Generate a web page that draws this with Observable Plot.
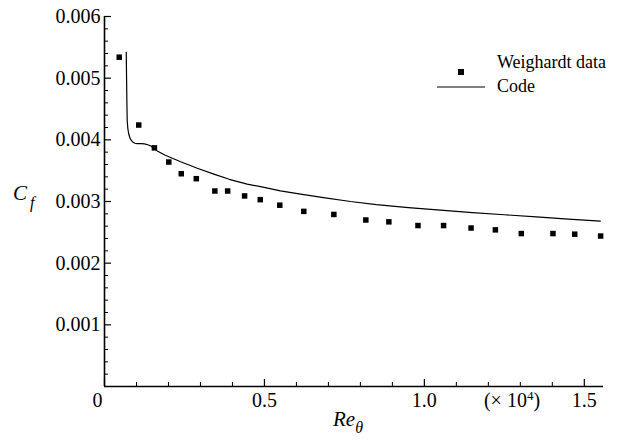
<!DOCTYPE html>
<html>
<head>
<meta charset="utf-8">
<script src="https://cdn.jsdelivr.net/npm/d3@7"></script>
<script src="https://cdn.jsdelivr.net/npm/@observablehq/plot@0.6"></script>
<style>
  body { margin: 0; background: #fff; }
  #chart { position: relative; width: 625px; height: 448px; }
  #chart svg { font-family: "Liberation Serif", "Times New Roman", serif; }
</style>
</head>
<body>
<div id="chart"></div>
<script>
// Skin-friction coefficient vs. momentum-thickness Reynolds number (×10^4)
const weighardtRe = [0.046, 0.107, 0.156, 0.201, 0.240, 0.287, 0.345, 0.385, 0.438, 0.487,
  0.548, 0.623, 0.717, 0.817, 0.889, 0.980, 1.060, 1.146, 1.222, 1.303, 1.402, 1.470, 1.551];
const weighardtCf = [0.00534, 0.00424, 0.00387, 0.00364, 0.00345, 0.00337, 0.00317, 0.00317, 0.00309, 0.00303,
  0.00294, 0.00284, 0.00279, 0.00270, 0.00267, 0.00261, 0.00261, 0.00257, 0.00254, 0.00248, 0.00248, 0.00247, 0.00244];

const codeRe = [0.068, 0.069, 0.070, 0.071, 0.073, 0.076, 0.081, 0.087, 0.095, 0.102, 0.115, 0.125, 0.135,
  0.145, 0.155, 0.165, 0.190, 0.227, 0.238, 0.290, 0.342, 0.390, 0.446, 0.488, 0.550, 0.613, 0.690,
  0.769, 0.850, 0.950, 1.050, 1.150, 1.250, 1.350, 1.450, 1.550];
const codeCf = [0.00542, 0.00500, 0.00460, 0.00431, 0.00418, 0.00409, 0.00401, 0.00397, 0.003945, 0.00394,
  0.00394, 0.003935, 0.00392, 0.00390, 0.00386, 0.00382, 0.00375, 0.00367, 0.003645, 0.00354, 0.003444,
  0.00336, 0.003282, 0.00324, 0.003173, 0.00312, 0.00306, 0.00300, 0.00295, 0.00290, 0.00286, 0.00282,
  0.002785, 0.00275, 0.002715, 0.002682];

const xTickValues = [0, 0.5, 1.0, 1.5];
const xTickLabels = ["0", "0.5", "1.0", "1.5"];
const yTickValues = [0.001, 0.002, 0.003, 0.004, 0.005, 0.006];
const yTickLabels = ["0.001", "0.002", "0.003", "0.004", "0.005", "0.006"];
const seriesNames = ["Weighardt data", "Code"];

const weighardt = weighardtRe.map((re, i) => ({re, cf: weighardtCf[i]}));
const code = codeRe.map((re, i) => ({re, cf: codeCf[i]}));

const xMinor = d3.range(1, 16).map(i => i / 10).filter(v => !xTickValues.some(t => Math.abs(t - v) < 1e-9));
const yMinor = d3.range(1, 30).map(i => i * 0.0002).filter(v => !yTickValues.some(t => Math.abs(t - v) < 1e-9));

const W = 625, H = 448;
const mL = 104, mR = 22, mT = 16, mB = 62;
const frameW = W - mL - mR, frameH = H - mT - mB;
const majorLen = 7, minorLen = 4;
const serif = "Liberation Serif, Times New Roman, serif";

const fmtX = v => xTickLabels[xTickValues.indexOf(v)];
const fmtY = v => yTickLabels[yTickValues.findIndex(t => Math.abs(t - v) < 1e-12)];

const chart = Plot.plot({
  width: W,
  height: H,
  marginLeft: mL,
  marginRight: mR,
  marginTop: mT,
  marginBottom: mB,
  style: {fontFamily: serif, color: "#000", background: "#fff"},
  x: {domain: [0, 1.56]},
  y: {domain: [0, 0.006]},
  marks: [
    // tick labels
    Plot.axisY(yTickValues, {tickSize: 0, tickPadding: 4, tickFormat: fmtY, fontSize: 20, label: null, fill: "#000"}),
    Plot.axisX([0], {tickSize: 0, tickPadding: 6, tickFormat: fmtX, fontSize: 20, label: null, dx: -7, fill: "#000"}),
    Plot.axisX(xTickValues.slice(1), {tickSize: 0, tickPadding: 6, tickFormat: fmtX, fontSize: 20, label: null, fill: "#000"}),
    // inward ticks
    Plot.ruleX(xTickValues, {x: d => d, insetTop: frameH - majorLen, stroke: "#000", strokeWidth: 1.2}),
    Plot.ruleX(xMinor, {x: d => d, insetTop: frameH - minorLen, stroke: "#000", strokeWidth: 1}),
    Plot.ruleY(yTickValues, {y: d => d, insetRight: frameW - majorLen, stroke: "#000", strokeWidth: 1.2}),
    Plot.ruleY(yMinor, {y: d => d, insetRight: frameW - minorLen, stroke: "#000", strokeWidth: 1}),
    // axis lines
    Plot.ruleX([0], {stroke: "#000", strokeWidth: 1.6}),
    Plot.ruleY([0], {stroke: "#000", strokeWidth: 1.6}),
    // data
    Plot.line(code, {x: "re", y: "cf", stroke: "#000", strokeWidth: 1.2}),
    Plot.dot(weighardt, {x: "re", y: "cf", symbol: "square", r: 3.1, fill: "#000", stroke: "none"})
  ]
});

document.getElementById("chart").appendChild(chart);

const svg = d3.select(chart);

// scale note for the x axis, with a superscript exponent
const note = svg.append("text")
  .attr("x", 512).attr("y", 407)
  .attr("text-anchor", "middle")
  .attr("font-family", serif).attr("font-size", 20).attr("fill", "#000");
note.append("tspan").text("(\u00d7 10");
note.append("tspan").attr("dy", -7).attr("font-size", 13).text("4");
note.append("tspan").attr("dy", 7).text(")");

// axis titles with subscripts
const yTitle = svg.append("text")
  .attr("x", 13).attr("y", 200)
  .attr("text-anchor", "start")
  .attr("font-family", serif)
  .attr("font-style", "italic").attr("font-size", 21).attr("fill", "#000");
yTitle.append("tspan").text("C");
yTitle.append("tspan").attr("dx", 3).attr("dy", 8).attr("font-size", 16).text("f");

const xTitle = svg.append("text")
  .attr("x", 333).attr("y", 426)
  .attr("text-anchor", "start")
  .attr("font-family", serif)
  .attr("font-style", "italic").attr("font-size", 21).attr("fill", "#000");
xTitle.append("tspan").text("Re");
xTitle.append("tspan").attr("dy", 7).attr("font-size", 16).text("\u03b8");

// legend
const legend = svg.append("g")
  .attr("text-anchor", "start")
  .attr("font-family", serif).attr("font-size", 18).attr("fill", "#000");
legend.append("rect").attr("x", 458).attr("y", 69).attr("width", 6).attr("height", 6).attr("fill", "#000");
legend.append("text").attr("x", 497).attr("y", 68).text(seriesNames[0]);
legend.append("line").attr("x1", 437).attr("x2", 485).attr("y1", 87).attr("y2", 87)
  .attr("stroke", "#000").attr("stroke-width", 1.2);
legend.append("text").attr("x", 497).attr("y", 92).text(seriesNames[1]);
</script>
</body>
</html>
